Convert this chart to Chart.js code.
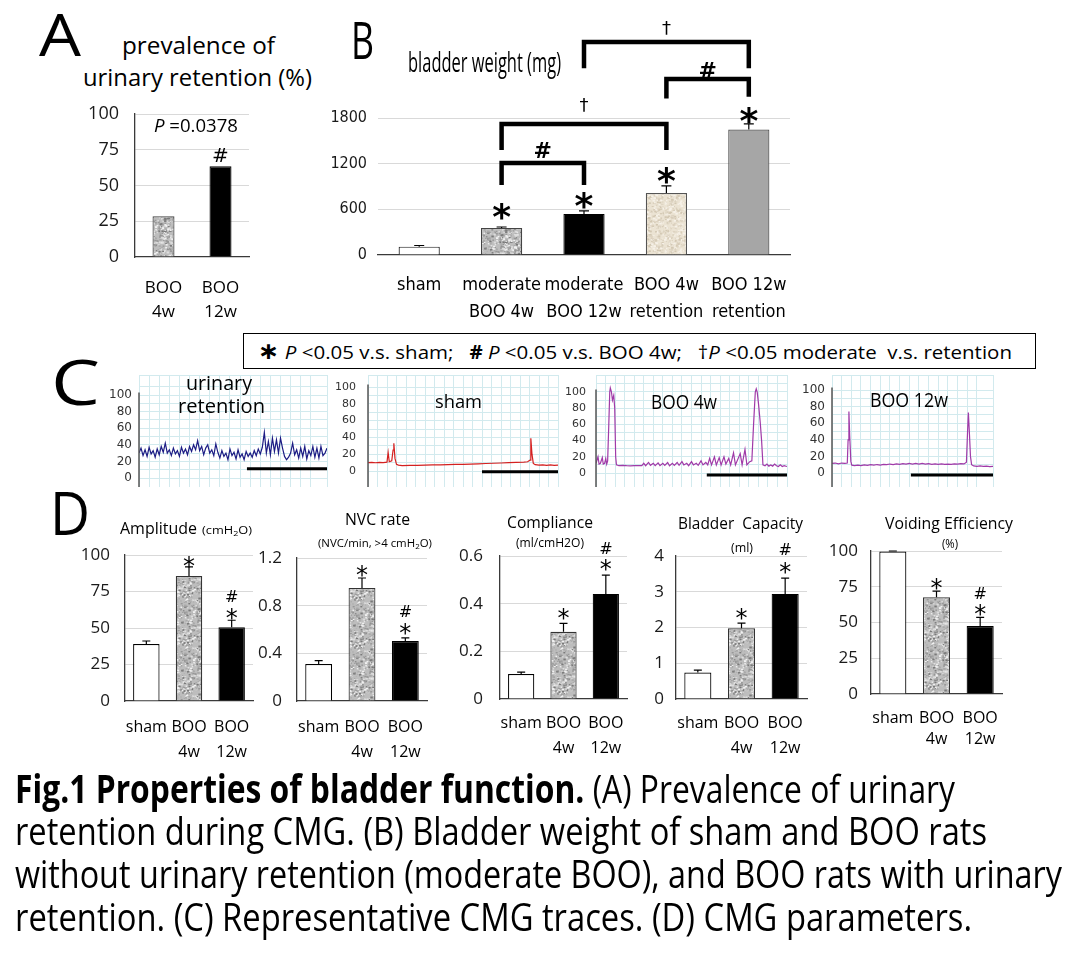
<!DOCTYPE html>
<html>
<head>
<meta charset="utf-8">
<title>Fig.1 Properties of bladder function</title>
<script src="https://cdn.jsdelivr.net/npm/chart.js@4.4.1/dist/chart.umd.min.js"></script>
<style>
  html, body { margin: 0; padding: 0; background: #fff; }
  #fig { position: relative; width: 1080px; height: 961px; overflow: hidden; background: #fff; }
  #fig canvas { position: absolute; }
  .t { position: absolute; white-space: nowrap; line-height: 1; color: #000; font-family: 'Open Sans', sans-serif; transform-origin: 0 50%; }
  .t sub { font-size: 0.7em; vertical-align: -0.3em; line-height: 0; }
  #legend { position: absolute; left: 243px; top: 333px; width: 791px; height: 34px; border: 1px solid #000; }
</style>
</head>
<body>
<div id="fig"><div id="legend"></div></div>
<script>
// A - prevalence of urinary retention (%)
const prevLabels = [['BOO', '4w'], ['BOO', '12w']];
const prevValues = [28.5, 63.5];

// B - bladder weight (mg)
const weightLabels = [['sham'], ['moderate', 'BOO 4w'], ['moderate', 'BOO 12w'], ['BOO 4w', 'retention'], ['BOO 12w', 'retention']];
const weightMean = [110, 355, 540, 815, 1648];
const weightErr = [15, 13, 39, 92, 75];

// C - representative CMG traces (cmH2O)
const traceTicks = [0, 20, 40, 60, 80, 100];
const retentionPressure = [30, 36, 27, 34, 26, 37, 29, 33, 25, 35, 28, 38, 31, 42, 30,
  34, 27, 36, 29, 33, 26, 37, 30, 35, 28, 38, 32, 40, 34,
  45, 33, 38, 28, 36, 40, 30, 34, 27, 41,
  31, 24, 33, 26, 30, 22, 35, 27, 31, 23, 34, 25, 29, 22, 32, 26,
  30, 25, 33, 27, 35, 29, 37,
  55,
  30, 44, 28, 48, 32, 46, 30, 48, 36,
  26, 22, 25, 30, 42, 28,
  34, 24, 36, 26, 38, 23, 33, 27, 38, 25, 36, 24, 38, 27, 30, 36];
const shamTime = [0, 2, 4, 6, 8, 10, 10.6, 11.2, 12.5, 13.2, 13.6, 14.2, 15, 16, 18, 22, 26, 30, 34, 38, 42, 46, 50, 54, 58, 62, 66, 70, 74, 78, 82, 84, 85.3, 85.7, 86.3, 87, 88, 90, 92, 94, 96, 98, 100];
const shamPressure = [10, 10.3, 9.8, 10.2, 10, 10.5, 22, 11, 12, 25, 33, 15, 8, 7, 6.5, 6.8, 6.6, 7, 7.2, 7.4, 7.6, 7.8, 8, 8.3, 8.6, 8.9, 9.2, 9.5, 9.9, 10.2, 10.5, 11, 13, 39, 20, 9, 7.5, 7, 7.3, 6.8, 7.2, 6.6, 7];
const boo4wTime = [0, 1.05, 1.6, 2.3, 3.3, 3.8, 4.5, 5.1, 5.6, 6.1,
  6.7, 7.2, 7.5, 8.1, 8.6, 9.3, 9.8, 10.3, 10.7,
  12, 14, 16, 18, 20, 22, 24,
  25, 26, 27.5, 28.5, 30, 31, 32.5, 33.5, 35, 36,
  37.5, 38.5, 40, 41, 42.5, 43.5, 45, 46, 47.5, 48.5,
  50, 51, 52.5, 53.5, 55, 56, 57.5, 58.5,
  59.5, 60.5, 62, 63, 64.5, 65.5, 67, 68, 69.5, 70.5,
  72, 73, 75.5, 76.5, 78, 79, 80.5,
  81.6, 82.5, 83.4, 83.9, 84.4, 85.1, 86, 86.7, 87.4,
  88.5, 89.5, 90.5, 91.5, 92.5, 93.5, 94.5, 95.5, 96.5, 97.5, 98.5, 100];
const boo4wPressure = [12, 20, 11, 12, 19, 11, 12, 18, 11, 15,
  60, 100, 105, 100, 90, 96, 80, 20, 10,
  9, 9.5, 9, 8.8, 9, 9.2, 9,
  12, 9, 13, 9.5, 12, 9, 12.5, 9, 12, 9.5,
  13, 9, 12, 9.5, 13, 9.5, 14, 10, 12, 9,
  14, 10, 12, 9.5, 15, 10, 13, 10,
  18, 10, 20, 10, 19, 10, 20, 11, 18, 10,
  25, 10, 24, 10, 29, 10, 14,
  15, 60, 100, 104, 100, 85, 62, 40, 10,
  9, 11, 8.5, 10, 8.5, 11, 9, 8, 10, 8, 9, 8];
const boo12wTime = [0, 2, 4, 6, 8, 9.5, 10, 10.5, 11, 11.7, 12.3,
  14, 16, 18, 20, 22, 24, 26, 28, 30, 32, 34, 36, 38, 40, 42, 44, 46, 48, 50, 52, 54, 56, 58, 60, 62, 64, 66, 68, 70, 72, 74, 76, 78, 80, 82,
  83.5, 84.2, 84.7, 85.3, 86, 86.7, 88, 90, 92, 94, 96, 98, 100];
const boo12wPressure = [11.5, 12, 11, 12, 11.5, 12, 40, 74, 45, 14, 9.5,
  9, 9.5, 9, 9.8, 9.3, 10, 9.5, 10.2, 9.6, 10.4, 10, 10.8, 10.2, 11, 10.5, 11.3, 10.6, 11.5, 10.8, 11.5, 10.8, 11.6, 10.7, 11.3, 10.5, 11, 10.4, 10.9, 10.3, 10.8, 10.4, 11, 10.6, 11.2, 11,
  13, 50, 73, 50, 20, 10, 8.5, 8, 8.5, 8, 8.3, 7.8, 8];

// D - CMG parameters (mean, SE)
const groupLabels = [['sham'], ['BOO', '4w'], ['BOO', '12w']];
const amplitudeMean = [39, 85.6, 50.5];
const amplitudeErr = [2.1, 6.2, 4.8];
const nvcMean = [0.31, 0.948, 0.503];
const nvcErr = [0.028, 0.084, 0.026];
const complianceMean = [0.105, 0.282, 0.441];
const complianceErr = [0.008, 0.035, 0.079];
const capacityMean = [0.74, 1.98, 2.94];
const capacityErr = [0.07, 0.14, 0.44];
const voidingMean = [99.7, 67.6, 47.6];
const voidingErr = [0.3, 4.4, 6.0];

Chart.defaults.font.family = "'Open Sans', sans-serif";
Chart.defaults.color = '#1a1a1a';
Chart.defaults.animation = false;
Chart.defaults.events = [];
Chart.defaults.plugins.legend.display = false;
Chart.defaults.plugins.tooltip.enabled = false;

const fig = document.getElementById('fig');
const OPEN = "'Open Sans', sans-serif";
const NARROW = "'Liberation Sans Narrow', 'DejaVu Sans Condensed', sans-serif";
const SYM = "'DejaVu Sans', sans-serif";
// how far below the glyph's middle its baseline sits (em)
const lift = { '*': 0.575, '#': 0.365, '\u2020': 0.31 };

function speckle(base, specks, seed) {
  const c = document.createElement('canvas');
  c.width = c.height = 48;
  const g = c.getContext('2d');
  g.fillStyle = base;
  g.fillRect(0, 0, 48, 48);
  let s = seed;
  const rnd = () => (s = (s * 16807) % 2147483647) / 2147483647;
  for (let k = 0; k < 650; k++) {
    g.fillStyle = specks[Math.floor(rnd() * specks.length)];
    const r = rnd() * 1.5 + 0.5;
    g.fillRect(rnd() * 48, rnd() * 48, r * 1.3, r);
  }
  return g.createPattern(c, 'repeat');
}
const grayDots = speckle('#bdbdbd', ['#7a7a7a', '#979797', '#dcdcdc', '#f0f0f0', '#a9a9a9'], 7);
const beigeDots = speckle('#ebe3d3', ['#d2c7b2', '#f6f1e8', '#ddd3c1'], 11);

function addCanvas(left, top, w, h) {
  const c = document.createElement('canvas');
  c.width = w;
  c.height = h;
  c.style.left = left + 'px';
  c.style.top = top + 'px';
  fig.appendChild(c);
  return c;
}

function txt(html, x, y, size, o = {}) {
  const d = document.createElement('div');
  d.className = 't';
  d.innerHTML = html;
  d.style.fontSize = size + 'px';
  if (o.family) d.style.fontFamily = o.family;
  if (o.weight) d.style.fontWeight = o.weight;
  fig.appendChild(d);
  const nat = d.getBoundingClientRect().width;
  const sx = o.w ? o.w / nat : 1;
  const left = o.align === 'left' ? x : x - nat * sx / 2;
  d.style.left = left + 'px';
  d.style.top = (y - size * 0.53) + 'px';
  d.style.transform = 'scaleX(' + sx + ')';
  return d;
}

function barPanel(o) {
  const left = o.l - o.axisW, top = o.t - o.padTop;
  const w = o.r + o.padRight - left, h = o.b + o.labelH - top;
  const cv = addCanvas(left, top, w, h);
  const decor = {
    id: 'decor',
    afterDatasetsDraw(chart) {
      const { ctx, scales: { x, y } } = chart;
      ctx.save();
      ctx.strokeStyle = '#000';
      ctx.lineWidth = 1.2;
      o.errors.forEach((e, i) => {
        if (!e) return;
        const px = x.getPixelForValue(i);
        const y0 = y.getPixelForValue(o.values[i]);
        const y1 = y.getPixelForValue(o.values[i] + e);
        ctx.beginPath();
        ctx.moveTo(px, y0);
        ctx.lineTo(px, y1);
        ctx.moveTo(px - o.cap, y1);
        ctx.lineTo(px + o.cap, y1);
        ctx.stroke();
      });
      ctx.lineWidth = 4.5;
      ctx.lineJoin = 'miter';
      (o.brackets || []).forEach(b => {
        const x0 = x.getPixelForValue(b.from), x1 = x.getPixelForValue(b.to);
        const yt = y.getPixelForValue(b.top);
        ctx.beginPath();
        ctx.moveTo(x0, y.getPixelForValue(b.foot[0]));
        ctx.lineTo(x0, yt);
        ctx.lineTo(x1, yt);
        ctx.lineTo(x1, y.getPixelForValue(b.foot[1]));
        ctx.stroke();
      });
      ctx.fillStyle = '#000';
      ctx.textAlign = 'center';
      ctx.textBaseline = 'alphabetic';
      (o.notes || []).forEach(([s, at, v]) => {
        const st = o.noteStyle[s];
        ctx.font = st.weight + ' ' + st.size + 'px ' + SYM;
        ctx.fillText(s, x.getPixelForValue(at), y.getPixelForValue(v) + st.size * lift[s]);
      });
      ctx.restore();
    }
  };
  new Chart(cv, {
    type: 'bar',
    data: {
      labels: o.labels,
      datasets: [{
        data: o.values,
        backgroundColor: o.fills,
        borderColor: o.borders,
        borderWidth: 1.2,
        barPercentage: o.barFrac,
        categoryPercentage: 1
      }]
    },
    options: {
      responsive: false,
      layout: { padding: { left: 0, right: o.padRight, top: o.padTop, bottom: 0 } },
      scales: {
        x: {
          grid: { display: false, drawTicks: false },
          border: { display: true, color: '#3a3a3a', width: 1.3 },
          ticks: { autoSkip: false, maxRotation: 0, padding: o.xPad, color: '#000',
                   font: { family: o.family, size: o.xSize, lineHeight: o.xLine } },
          afterFit: s => { s.height = o.labelH; s.paddingLeft = 0; s.paddingRight = 0; }
        },
        y: {
          min: o.min,
          max: o.max,
          grid: { color: c => c.tick.value === 0 ? 'rgba(0,0,0,0)' : '#d9d9d9', drawTicks: false, lineWidth: 1 },
          border: { display: o.yLine, color: '#3a3a3a', width: 1.3 },
          ticks: { stepSize: o.step, padding: o.yPad, color: '#1a1a1a',
                   font: { family: o.family, size: o.ySize },
                   callback: v => String(+v.toFixed(2)) },
          afterFit: s => { s.width = o.axisW; s.paddingTop = 0; s.paddingBottom = 0; }
        }
      }
    },
    plugins: [decor]
  });
}

function tracePanel(o) {
  const axisW = 40;
  const left = o.l - axisW, w = o.r + 3 - left, h = o.b - o.t;
  const per = (o.y0 - o.y100) / 100;
  const yMax = (o.y0 - o.t) / per, yMin = -(o.b - o.y0) / per;
  const cv = addCanvas(left, o.t, w, h);
  const pts = o.pressure.map((p, i) => ({ x: o.time ? o.time[i] : i, y: p }));
  const decor = {
    id: 'cmg',
    afterDraw(chart) {
      const { ctx, chartArea: a, scales: { x, y } } = chart;
      ctx.save();
      ctx.strokeStyle = '#555';
      ctx.lineWidth = 1.5;
      ctx.beginPath();
      ctx.moveTo(a.left, y.getPixelForValue(103));
      ctx.lineTo(a.left, a.bottom);
      ctx.stroke();
      // time scale bar
      ctx.strokeStyle = '#000';
      ctx.lineWidth = 3;
      const yb = y.getPixelForValue(o.bar[2]);
      ctx.beginPath();
      ctx.moveTo(x.getPixelForValue(o.bar[0]), yb);
      ctx.lineTo(x.getPixelForValue(o.bar[1]), yb);
      ctx.stroke();
      ctx.restore();
    }
  };
  new Chart(cv, {
    type: 'line',
    data: { datasets: [{ data: pts, borderColor: o.color, borderWidth: 1.2, pointRadius: 0, tension: 0 }] },
    options: {
      responsive: false,
      layout: { padding: { left: 0, right: 3, top: 0, bottom: 0 } },
      scales: {
        x: {
          type: 'linear', min: 0, max: o.tMax,
          ticks: { display: false, stepSize: o.tStep },
          grid: { color: '#d2eaee', drawTicks: false },
          border: { display: false },
          afterFit: s => { s.height = 0; s.paddingLeft = 0; s.paddingRight = 0; }
        },
        y: {
          min: yMin, max: yMax,
          ticks: { stepSize: 10, autoSkip: false, padding: o.yPad, color: '#333',
                   font: { family: SYM, size: o.tickSize },
                   callback: v => traceTicks.includes(v) ? String(v) : '' },
          grid: { color: '#d2eaee', drawTicks: false },
          border: { display: false },
          afterFit: s => { s.width = axisW; s.paddingTop = 0; s.paddingBottom = 0; }
        }
      }
    },
    plugins: [decor]
  });
}

// ---------- A
barPanel({
  l: 135, r: 249, t: 114, b: 257, axisW: 52, padTop: 14, padRight: 4, labelH: 72,
  family: OPEN, ySize: 18, xSize: 17, xLine: 1.4, xPad: 19, yPad: 16,
  min: 0, max: 100, step: 25, barFrac: 0.386, cap: 0, yLine: true,
  labels: prevLabels, values: prevValues, errors: [0, 0],
  fills: [grayDots, '#000'], borders: ['#444', '#000'],
  noteStyle: { '#': { size: 20, weight: 'normal' } },
  notes: [['#', 1, 71.3]]
});

// ---------- B
barPanel({
  l: 378, r: 790, t: 118, b: 255, axisW: 50, padTop: 103, padRight: 6, labelH: 75,
  family: NARROW, ySize: 16, xSize: 18, xLine: 1.5, xPad: 16.5, yPad: 11,
  min: 0, max: 1800, step: 600, barFrac: 0.5, cap: 5, yLine: false,
  labels: weightLabels, values: weightMean, errors: weightErr,
  fills: ['#fff', grayDots, '#000', beigeDots, '#a6a6a6'],
  borders: ['#222', '#444', '#000', '#555', '#555'],
  brackets: [
    { from: 1, to: 2, top: 1209, foot: [920, 920] },
    { from: 1, to: 3, top: 1721, foot: [1380, 1380] },
    { from: 3, to: 4, top: 2312, foot: [2055, 2080] },
    { from: 2, to: 4, top: 2798, foot: [2455, 2455] }
  ],
  noteStyle: { '*': { size: 36, weight: 'bold' }, '#': { size: 22, weight: 'bold' }, '\u2020': { size: 18, weight: 'normal' } },
  notes: [['*', 1, 617], ['*', 2, 762], ['*', 3, 1090], ['*', 4, 1879],
          ['#', 1.5, 1380], ['#', 3.5, 2430], ['\u2020', 2, 1971], ['\u2020', 3, 2982]]
});

// ---------- C
tracePanel({ l: 139, r: 327, t: 375, b: 487, y0: 478, y100: 395, pressure: retentionPressure,
  color: '#1c1c84', tMax: 93, tStep: 5, yPad: 7, tickSize: 12, bar: [53.4, 93, 11] });
tracePanel({ l: 368, r: 558, t: 375, b: 487, y0: 471, y100: 387, time: shamTime, pressure: shamPressure,
  color: '#d42020', tMax: 100, tStep: 5, yPad: 12, tickSize: 11, bar: [60, 100, -1] });
tracePanel({ l: 596, r: 787, t: 375, b: 487, y0: 473, y100: 392, time: boo4wTime, pressure: boo4wPressure,
  color: '#a03aa8', tMax: 100, tStep: 5, yPad: 10, tickSize: 11, bar: [58, 100, -2.5] });
tracePanel({ l: 832, r: 993, t: 375, b: 487, y0: 473, y100: 390, time: boo12wTime, pressure: boo12wPressure,
  color: '#a03aa8', tMax: 100, tStep: 6, yPad: 7, tickSize: 12, bar: [49, 100, -2.4] });

// ---------- D
const dBase = {
  axisW: 52, padTop: 22, padRight: 4, family: OPEN, ySize: 17, xSize: 16,
  barFrac: 0.62, cap: 4, yLine: true, labels: groupLabels,
  fills: ['#fff', grayDots, '#000'], borders: ['#000', '#333', '#000'],
  noteStyle: { '*': { size: 24, weight: 'normal' }, '#': { size: 16, weight: 'normal' } }
};
barPanel({ ...dBase, l: 125, r: 253, t: 555, b: 701, labelH: 62, xPad: 13.5, xLine: 1.56, yPad: 15,
  min: 0, max: 100, step: 25, values: amplitudeMean, errors: amplitudeErr,
  notes: [['*', 1, 96.6], ['#', 2, 71.9], ['*', 2, 61]] });
barPanel({ ...dBase, l: 297, r: 427, t: 558, b: 701, labelH: 62, xPad: 13.5, xLine: 1.56, yPad: 15,
  min: 0, max: 1.2, step: 0.4, values: nvcMean, errors: nvcErr,
  notes: [['*', 1, 1.107], ['#', 2, 0.755], ['*', 2, 0.621]] });
barPanel({ ...dBase, l: 500, r: 627, t: 556, b: 699, labelH: 62, xPad: 11.5, xLine: 1.56, yPad: 17,
  min: 0, max: 0.6, step: 0.2, values: complianceMean, errors: complianceErr,
  notes: [['*', 1, 0.365], ['#', 2, 0.634], ['*', 2, 0.571]] });
barPanel({ ...dBase, l: 676, r: 807, t: 556, b: 699, labelH: 62, xPad: 11.5, xLine: 1.56, yPad: 12,
  min: 0, max: 4, step: 1, values: capacityMean, errors: capacityErr,
  notes: [['*', 1, 2.43], ['#', 2, 4.2], ['*', 2, 3.72]] });
barPanel({ ...dBase, l: 871, r: 1002, t: 551, b: 694, labelH: 62, xPad: 13.5, xLine: 1.31, yPad: 13,
  min: 0, max: 100, step: 25, values: voidingMean, errors: voidingErr,
  notes: [['*', 1, 78.3], ['#', 2, 70.6], ['*', 2, 60.1]] });

// ---------- texts
txt('A', 39, 36, 58, { align: 'left', w: 42 });
txt('prevalence of', 198, 46, 23, { w: 153 });
txt('urinary retention (%)', 83, 78, 23, { align: 'left', w: 229 });
txt('B', 351, 41, 52, { align: 'left', w: 23 });
txt('bladder weight (mg)', 408, 62, 28, { align: 'left', w: 153 });
txt('C', 51, 383, 62, { align: 'left', w: 49 });
txt('D', 50, 514, 60, { align: 'left', w: 40 });

txt('<span style="font-family:\'DejaVu Sans\';font-weight:bold;font-size:1.25em">\u2217</span> <i>P</i> &lt;0.05 v.s. sham;&nbsp;&nbsp; <b>#</b> <i>P</i> &lt;0.05 v.s. BOO 4w;&nbsp;&nbsp; \u2020<i>P</i> &lt;0.05 moderate&nbsp; v.s. retention',
  258, 350, 19, { align: 'left', w: 754 });

txt('urinary', 219, 384, 20, { w: 66 });
txt('retention', 221, 407, 20, { w: 87 });
txt('sham', 458, 402, 19, { w: 47 });
txt('BOO 4w', 684, 403, 20, { w: 66 });
txt('BOO 12w', 909, 401, 20, { w: 78 });

txt('<i>P</i> =0.0378', 196, 126, 18, { w: 84 });

txt('Amplitude', 120, 528, 17, { align: 'left', w: 77 });
txt('(cmH<sub>2</sub>O)', 202, 530, 11, { align: 'left', w: 50 });
txt('NVC rate', 377, 519, 17, { w: 65 });
txt('(NVC/min, &gt;4 cmH<sub>2</sub>O)', 375, 543, 11, { w: 114 });
txt('Compliance', 550, 522, 17, { w: 86 });
txt('(ml/cmH2O)', 550, 543, 12, { w: 68 });
txt('Bladder&nbsp; Capacity', 740, 523, 17, { w: 125 });
txt('(ml)', 742, 548, 12, { w: 22 });
txt('Voiding Efficiency', 949, 523, 17, { w: 128 });
txt('(%)', 950, 544, 12, { w: 16 });

txt('<b>Fig.1 Properties of bladder function.</b> (A) Prevalence of urinary', 15, 789, 39, { align: 'left', w: 940 });
txt('retention during CMG. (B) Bladder weight of sham and BOO rats', 15, 831, 39, { align: 'left', w: 972 });
txt('without urinary retention (moderate BOO), and BOO rats with urinary', 15, 874, 39, { align: 'left', w: 1047 });
txt('retention. (C) Representative CMG traces. (D) CMG parameters.', 15, 917, 39, { align: 'left', w: 957 });
</script>
</body>
</html>
